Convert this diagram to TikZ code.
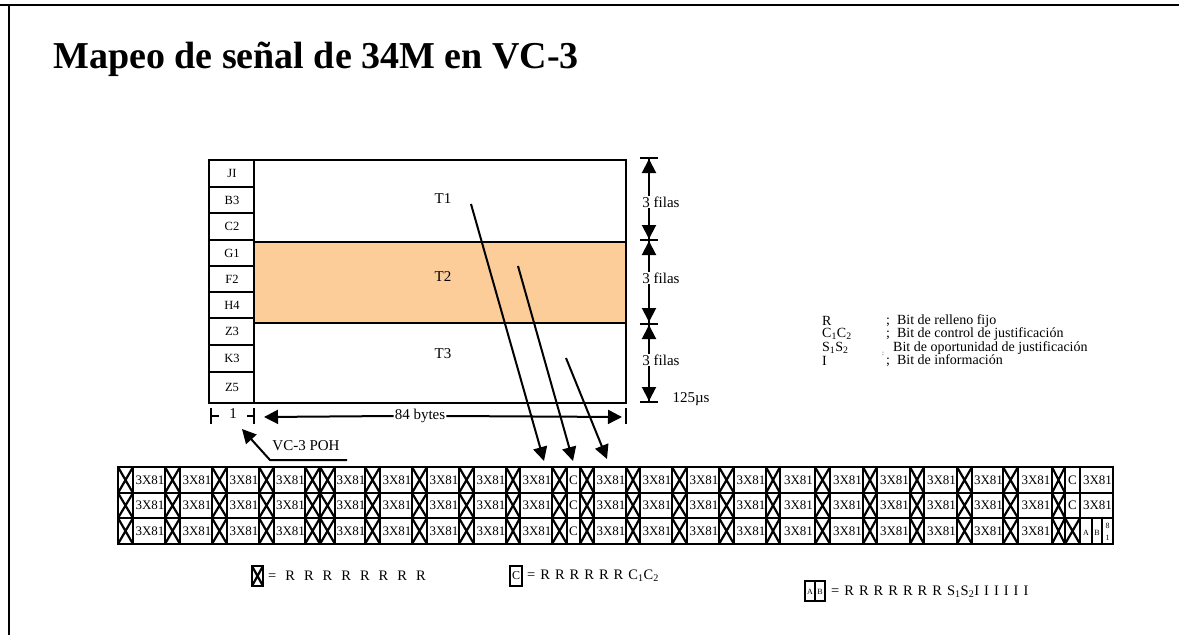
\documentclass[tikz,border=0pt]{standalone}
\usepackage{fontspec}
\setmainfont{Liberation Serif}
\usetikzlibrary{arrows.meta,positioning}
\definecolor{bandpeach}{RGB}{252,204,153}
\newcommand\fs[1]{\fontsize{#1}{#1}\selectfont}
\newcommand\widesp[1]{\spaceskip=#1\relax}

\begin{document}
\begin{tikzpicture}[x=1pt,y=-1pt,
    every node/.style={inner sep=0pt},
    frameline/.style={line width=1.8pt},
    bigtip/.style={-{Triangle[width=14pt,length=14pt]},line width=2pt},
    dimtick/.style={line width=2pt},
    cellline/.style={line width=1.5pt},
    crossline/.style={line width=2.2pt},
    lbl/.style={font=\fs{15}},
    legtxt/.style={font=\fs{14},anchor=west},
    eqtxt/.style={font=\fs{14.5},anchor=west}]
  \useasboundingbox (0,0) rectangle (1179,635);
  % slide frame and title
  \draw[line width=2pt] (0,5) -- (1179,5);
  \draw[line width=2pt] (9,5) -- (9,635);
  \node[anchor=base west,font=\fs{38}\bfseries] (title) at (53,68) {Mapeo de señal de 34M en VC-3};

  % VC-3 frame
  \fill[bandpeach] (254,242) rectangle (626,323);
  \draw[frameline] (254,160) rectangle (626,403);
  \draw[frameline] (254,242) -- (626,242) (254,323) -- (626,323);
  \draw[frameline] (209,160) rectangle (254,403);
  \foreach \y in {187,213,240,266,292,318,345,372}{\draw[frameline] (209,\y) -- (254,\y);}
  \foreach \y/\name in {173/JI,200/B3,226/C2,253/G1,279/F2,305/H4,331/Z3,358/K3,387/Z5}{\node[font=\fs{12.5}] (poh\name) at (232,\y) {\name};}
  \node[lbl] (t1) at (443,199) {T1};
  \node[lbl] (t2) at (443,277) {T2};
  \node[lbl] (t3) at (443,354) {T3};

  % rows on the right
  \foreach \y in {158,240,324,402}{\draw[dimtick] (640,\y) -- (658,\y);}
  \draw[dimtick] (649,158) -- (649,402);
  \foreach \ya/\yb/\yt/\yc/\yd [count=\i] in {159/188/202/218/239,241/267/278/290/322,325/343/360/372/401}{
    \coordinate (up\i) at (649,\ya);
    \coordinate (dn\i) at (649,\yd);
    \node[fill=white,inner sep=1pt,lbl] (filas\i) at (661,\yt) {3 filas};
    \draw[bigtip] (649,\yb) -- (up\i);
    \draw[bigtip] (649,\yc) -- (dn\i);
  }
  \node[lbl] (period) at (691,399) {125µs};

  % columns below
  \draw[dimtick] (211,408) -- (211,424) (211,416) -- (219,416);
  \draw[dimtick] (254,408) -- (254,424) (247,416) -- (254,416);
  \node[lbl] (one) at (233,414) {1};
  \draw[dimtick] (626,408) -- (626,424);
  \node[lbl,fill=white,inner sep=1pt] (bytes) at (420,416) {84 bytes};
  \coordinate (bl) at (264,417);
  \coordinate (br) at (622,417);
  \draw[bigtip] (bytes.west) -- (bl);
  \draw[bigtip] (bytes.east) -- (br);

  % VC-3 POH pointer
  \node[lbl] (pohname) at (306,446) {VC-3 POH};
  \coordinate (ptrA) at (347,460);
  \coordinate (ptrB) at (270,460);
  \coordinate (ptrC) at (242,429);
  \draw[bigtip] (ptrA) -- (ptrB) -- (ptrC);

  % mapping arrows
  \coordinate (m1a) at (471,204); \coordinate (m1b) at (544,461);
  \coordinate (m2a) at (518,266); \coordinate (m2b) at (573,461);
  \coordinate (m3a) at (566,358); \coordinate (m3b) at (607,459);
  \draw[bigtip] (m1a) -- (m1b);
  \draw[bigtip] (m2a) -- (m2b);
  \draw[bigtip] (m3a) -- (m3b);

  % 34M frame rows
  \foreach \ya/\yb in {467/493,493/518,518/544}{
    \foreach \a/\b/\c in {118/133/165,165/180/212,212/227/259,259/274/305,320/335/365,365/380/412,412/427/459,459/474/506,506/520/552,580/594/626,626/640/672,672/687/719,719/734/766,766/780/815,815/830/863,863/877/910,910/924/957,957/972/1003,1003/1018/1052}{
      \draw[cellline] (\a,\ya) rectangle (\b,\yb);
      \draw[crossline] (\a,\ya) -- (\b,\yb) (\a,\yb) -- (\b,\ya);
      \draw[cellline] (\b,\ya) rectangle (\c,\yb);
      \node[font=\fs{13}] (n\ya-\b) at ({(\b+\c)/2+1},{(\ya+\yb)/2}) {3X81};
    }
    \foreach \a/\b in {305/320,552/567,1052/1065}{
      \draw[cellline] (\a,\ya) rectangle (\b,\yb);
      \draw[crossline] (\a,\ya) -- (\b,\yb) (\a,\yb) -- (\b,\ya);
    }
    \draw[cellline] (567,\ya) rectangle (580,\yb);
    \node[font=\fs{13}] (c\ya) at (573.5,{(\ya+\yb)/2}) {C};
  }
  \foreach \ya/\yb in {467/493,493/518}{
    \draw[cellline] (1065,\ya) rectangle (1080,\yb) (1080,\ya) rectangle (1113,\yb);
    \node[font=\fs{13}] (ce\ya) at (1072.5,{(\ya+\yb)/2}) {C};
    \node[font=\fs{13}] (ne\ya) at (1097.5,{(\ya+\yb)/2}) {3X81};
  }
  \draw[cellline] (1065,518) rectangle (1080,544);
  \draw[crossline] (1065,518) -- (1080,544) (1065,544) -- (1080,518);
  \draw[cellline] (1080,518) rectangle (1092,544) (1092,518) rectangle (1102,544) (1102,518) rectangle (1113,544);
  \node[font=\fs{8}] (bitA) at (1086,533) {A};
  \node[font=\fs{8}] (bitB) at (1097,533) {B};
  \node[font=\fs{8}] (bitS) at (1107.5,526) {8};
  \node[font=\fs{8}] (bitI) at (1107.5,538) {1};

  % key
  \node[legtxt] (kR) at (822,321) {R};
  \node[legtxt] (kC) at (822,334) {C\textsubscript{1}C\textsubscript{2}};
  \node[legtxt] (kS) at (822,348) {S\textsubscript{1}S\textsubscript{2}};
  \node[legtxt] (kI) at (822,361) {I};
  \node[legtxt] (dR) at (886,321) {;\ \ Bit de relleno fijo};
  \node[legtxt] (dC) at (886,334) {;\ \ Bit de control de justificación};
  \node[font=\fs{7}] (dSc) at (883,354) {:};
  \node[legtxt] (dS) at (893,348) {Bit de oportunidad de justificación};
  \node[legtxt] (dI) at (886,361) {;\ \ Bit de información};

  % byte legend
  \draw[cellline] (252,566) rectangle (263,586);
  \draw[crossline] (252,566) -- (263,586) (252,586) -- (263,566);
  \node[eqtxt] (eqX) at (268,576) {\widesp{9pt}= R R R R R R R R};
  \draw[cellline] (510,566) rectangle (522,586);
  \node[font=\fs{12}] (symC) at (516,576) {C};
  \node[eqtxt] (eqC) at (527,576) {\widesp{5pt}= R R R R R R C\textsubscript{1}C\textsubscript{2}};
  \draw[cellline] (805,581) rectangle (815,601) (815,581) rectangle (825,601);
  \node[font=\fs{8}] (symA) at (810,592) {A};
  \node[font=\fs{8}] (symB) at (820,592) {B};
  \node[eqtxt] (eqAB) at (831,592) {\widesp{5pt}= R R R R R R R S\textsubscript{1}S\textsubscript{2}I I I I I I};
\end{tikzpicture}
\end{document}
